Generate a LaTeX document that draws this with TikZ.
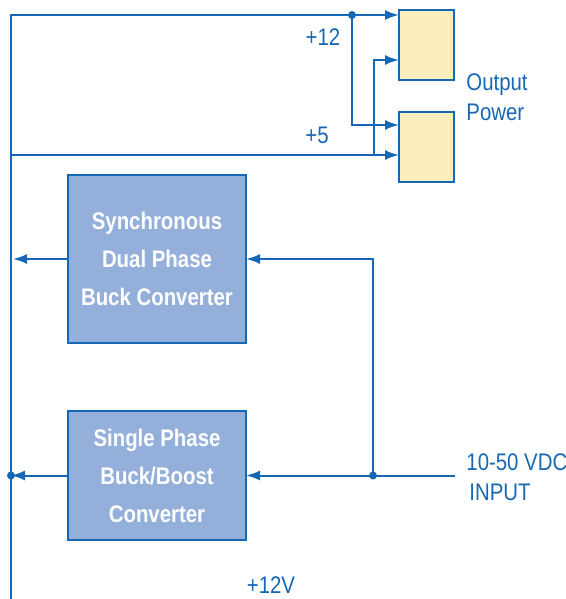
\documentclass[tikz,border=0pt]{standalone}
\usepackage{fontspec}
\setmainfont{Liberation Sans}[FakeStretch=0.85]
\usetikzlibrary{arrows.meta}
\definecolor{wireblue}{HTML}{1768B4}
\definecolor{boxblue}{HTML}{94AFDA}
\definecolor{outyellow}{HTML}{FDEFBD}

\begin{document}
\begin{tikzpicture}[x=0.5pt, y=-0.5pt,
  >={Latex[length=7pt,width=5pt]},
  wire/.style={draw=wireblue, line width=1pt},
  conv/.style={draw=wireblue, line width=1pt, fill=boxblue, text=white,
    font=\bfseries\fontsize{12}{19}\selectfont, align=center,
    inner sep=0pt, outer sep=0pt, minimum width=89pt, anchor=north west},
  outbox/.style={draw=wireblue, line width=1pt, fill=outyellow,
    inner sep=0pt, outer sep=0pt, minimum width=27.5pt, minimum height=35pt, anchor=north west},
  lbl/.style={text=wireblue, font=\fontsize{12}{15}\selectfont, inner sep=0pt}]
\useasboundingbox (0,0) rectangle (566,599);

% converters
\node[conv, minimum height=84pt] (sync) at (68,175) {Synchronous\\Dual Phase\\Buck Converter};
\node[conv, minimum height=64.5pt] (bb) at (68,411) {Single Phase\\Buck/Boost\\Converter};

% output stages
\node[outbox] (out12) at (399,10) {};
\node[outbox] (out5) at (399,112) {};

% junctions
\coordinate (tl) at (11,15);
\coordinate (bl) at (11,599);
\coordinate (j12) at (352,15);
\coordinate (l5) at (11,155);
\coordinate (j5) at (374,155);
\coordinate (lsync) at (13,259);
\coordinate (lbb) at (11,475.5);
\coordinate (jin) at (373,475.5);
\coordinate (vin) at (455,475.5);

% +12 and +5 rails
\draw[wire] (bl) -- (tl) -- (j12);
\draw[wire,->] (j12) -- ([yshift=15pt]out12.west);
\draw[wire,->] (j12) |- ([yshift=11pt]out5.west);
\draw[wire,->] (l5) -- ([yshift=-4pt]out5.west);
\draw[wire,->] (j5) |- ([yshift=-7.5pt]out12.west);
\fill[wireblue] (j12) circle (2pt);

% converter outputs
\draw[wire,->] (sync.west) -- (lsync);
\draw[wire,->] (bb.west) -- (lbb);
\fill[wireblue] (lbb) circle (2pt);

% input
\draw[wire,->] (vin) -- (bb.east);
\draw[wire,->] (jin) |- (sync.east);
\fill[wireblue] (jin) circle (2pt);

% labels
\node[lbl] (p12) at (323,37) {+12};
\node[lbl] (p5) at (317,135) {+5};
\node[lbl, anchor=west, align=left] (outp) at (466,97) {Output\\Power};
\node[lbl, anchor=west, align=left] (vdc) at (466,477) {10-50 VDC\\\hspace{1.5pt}INPUT};
\node[lbl] (v12) at (271,585) {+12V};
\end{tikzpicture}
\end{document}
